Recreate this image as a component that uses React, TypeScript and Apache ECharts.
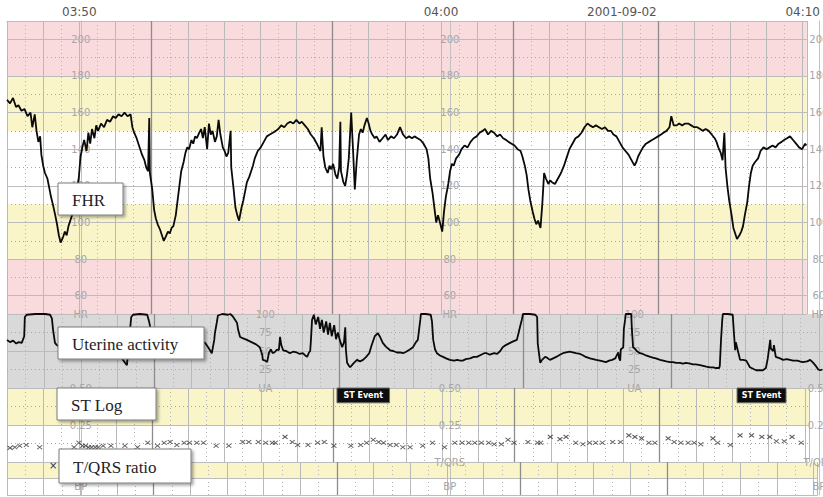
import React, { useEffect, useRef } from "react";
import * as echarts from "echarts";

// ---------- data (time in seconds relative to 03:50:00) ----------
const timeLabels: Record<number, string> = { 0: "03:50", 600: "04:00", 900: "2001-09-02", 1200: "04:10" };
const fhrLabelCols = [0, 600, 1200];
const uaLabelCols = [300, 900];
const darkLines = [120, 420, 720, 960];

const fhrBands: [number, number, string][] = [
  [180, 210, "pink"], [150, 180, "yellow"], [80, 110, "yellow"], [50, 80, "pink"],
];
const fhrSolid = [50, 60, 80, 100, 120, 140, 160, 180, 200, 210];
const fhrDotted = [70, 90, 110, 130, 150, 170, 190];
const uaSolid = [50, 0];
const uaDotted = [25, 75];
const stSolid = [0.25, 0];
const stDotted = [0.125, 0.375];
const bpSolid = [2, 0];

const fhrTrace: [number, number][] = [
  [-120,167],[-115,165],[-110,168],[-105,163],[-101,164],[-96,161],[-91,162],[-86,158],[-81,160],[-78,152],
  [-74,159],[-71,150],[-68,144],[-65,147],[-63,137],[-60,131],[-57,127],[-53,124],[-50,119],[-47,114],
  [-44,110],[-40,104],[-37,99],[-34,93],[-31,89],[-27,92],[-24,95],[-21,93],[-18,98],[-14,102],
  [-11,105],[-8,110],[-5,117],[-1,124],[2,136],[5,141],[8,145],[12,139],[15,149],[18,143],
  [21,151],[25,146],[28,153],[31,150],[36,154],[41,152],[46,156],[51,155],[56,158],[60,157],
  [65,159],[70,158],[75,160],[80,158],[85,159],[88,152],[91,149],[95,146],[98,143],[101,140],
  [104,137],[108,134],[111,130],[114,128],[116,157],[117,127],[121,118],[124,107],[127,102],[130,99],
  [134,96],[137,93],[140,90],[143,92],[147,95],[150,94],[153,97],[156,98],[160,104],[163,112],
  [166,120],[169,128],[173,133],[176,138],[179,141],[182,140],[186,145],[189,143],[192,147],[195,146],
  [199,149],[202,151],[205,146],[208,152],[212,140],[215,154],[218,148],[221,150],[225,144],[228,147],
  [231,156],[234,148],[238,141],[241,139],[244,136],[247,138],[251,150],[252,130],[256,118],[259,108],
  [262,104],[265,101],[269,108],[272,112],[275,117],[278,122],[282,125],[285,128],[288,131],[291,135],
  [296,139],[301,141],[306,144],[311,147],[316,148],[321,149],[326,150],[330,151],[335,153],[340,152],
  [345,154],[350,155],[355,154],[360,156],[365,154],[369,155],[374,153],[379,151],[384,148],[389,146],
  [394,143],[397,141],[400,139],[402,152],[405,136],[408,130],[412,127],[415,131],[418,129],[421,132],
  [425,126],[428,124],[431,130],[433,155],[434,128],[438,122],[441,120],[444,126],[447,135],[451,160],
  [454,140],[457,118],[460,133],[464,148],[467,151],[470,149],[473,153],[477,157],[480,154],[483,150],
  [486,148],[490,146],[493,147],[498,144],[503,146],[508,148],[512,145],[517,147],[522,146],[527,148],
  [532,152],[537,148],[542,146],[547,147],[552,146],[556,147],[561,146],[566,145],[571,143],[576,140],
  [579,135],[582,124],[586,116],[589,108],[592,100],[595,104],[599,99],[602,95],[605,106],[608,114],
  [612,121],[615,128],[618,132],[621,131],[625,135],[630,137],[634,140],[639,142],[644,141],[649,144],
  [654,146],[659,147],[664,149],[669,150],[673,151],[678,148],[683,150],[688,149],[693,147],[698,148],
  [703,146],[708,145],[712,144],[717,143],[722,142],[727,140],[732,139],[735,136],[739,131],[742,126],
  [745,118],[748,112],[752,106],[755,102],[758,99],[761,101],[765,97],[768,110],[771,127],[774,124],
  [778,121],[781,123],[784,122],[789,121],[794,124],[799,127],[804,131],[808,135],[813,140],[818,143],
  [823,146],[828,147],[833,149],[838,152],[843,154],[847,153],[852,152],[857,153],[862,152],[867,151],
  [872,152],[877,150],[882,150],[886,148],[891,147],[896,144],[901,141],[906,139],[911,137],[916,134],
  [921,131],[924,133],[927,136],[930,138],[935,141],[940,143],[945,144],[950,145],[955,146],[960,147],
  [965,148],[969,149],[974,150],[979,152],[982,158],[986,153],[991,153],[995,154],[1000,153],[1005,154],
  [1010,154],[1015,153],[1020,152],[1025,152],[1030,151],[1034,150],[1039,151],[1044,150],[1049,148],[1054,146],
  [1057,144],[1060,141],[1064,138],[1067,134],[1070,149],[1072,130],[1075,120],[1078,112],[1082,104],[1085,97],
  [1088,94],[1091,91],[1095,93],[1098,95],[1101,98],[1104,104],[1108,111],[1111,120],[1114,127],[1117,131],
  [1121,133],[1126,135],[1130,139],[1135,141],[1140,140],[1145,141],[1150,142],[1155,141],[1160,143],[1165,144],
  [1169,145],[1174,146],[1179,147],[1184,145],[1189,143],[1194,141],[1199,140],[1204,143],[1206,142],
];

const uaTrace: [number, number][] = [
  [-120,65],[-115,62],[-110,64],[-105,60],[-101,62],[-96,61],[-92,70],[-91,96],[-88,99],[-74,100],
  [-58,100],[-50,99],[-47,94],[-45,78],[-42,61],[-39,58],[-34,55],[-26,55],[-9,52],[7,50],
  [23,48],[39,45],[56,42],[67,40],[72,34],[75,31],[78,60],[82,96],[85,99],[96,100],
  [108,99],[111,90],[113,82],[116,70],[117,65],[126,62],[137,60],[153,62],[169,58],[186,60],
  [199,62],[202,61],[207,55],[213,47],[217,65],[218,74],[221,88],[223,98],[230,100],[239,99],
  [243,100],[247,97],[251,92],[254,88],[256,78],[259,69],[264,67],[270,65],[275,63],[280,61],
  [285,59],[291,55],[295,45],[296,38],[300,37],[303,35],[306,48],[309,52],[312,47],[316,49],
  [319,52],[322,51],[324,69],[326,58],[329,51],[334,50],[340,47],[345,49],[351,48],[356,46],
  [361,47],[365,44],[368,42],[371,48],[373,50],[374,62],[376,92],[379,99],[382,86],[386,96],
  [389,80],[392,92],[395,75],[399,90],[402,72],[405,88],[408,70],[412,85],[415,66],[418,75],
  [421,65],[425,55],[428,62],[430,82],[431,52],[433,34],[436,30],[438,28],[443,33],[449,38],
  [454,36],[459,38],[464,42],[469,47],[473,58],[478,70],[483,74],[486,70],[491,61],[496,56],
  [503,51],[508,50],[514,48],[519,48],[524,47],[529,49],[535,52],[540,55],[545,62],[548,65],
  [552,92],[553,100],[561,100],[569,99],[571,90],[573,65],[576,52],[579,47],[584,44],[589,42],
  [594,40],[600,38],[607,37],[612,38],[617,37],[621,37],[626,39],[633,40],[639,42],[644,42],
  [651,45],[656,47],[660,47],[665,45],[672,47],[677,46],[682,50],[686,55],[691,58],[698,61],
  [703,63],[709,65],[712,75],[714,82],[717,92],[719,100],[730,100],[739,99],[742,96],[743,60],
  [747,34],[750,38],[755,42],[758,41],[763,38],[768,40],[773,42],[779,45],[784,47],[789,48],
  [795,49],[800,48],[805,47],[812,46],[817,44],[821,42],[828,40],[833,39],[838,38],[844,37],
  [849,36],[854,35],[859,37],[864,38],[869,40],[872,45],[874,48],[875,41],[877,37],[878,52],
  [882,55],[883,80],[885,92],[886,100],[895,100],[896,80],[898,55],[901,53],[904,50],[909,47],
  [914,46],[919,44],[926,42],[930,41],[935,40],[942,38],[947,37],[952,36],[958,35],[963,35],
  [968,34],[974,34],[979,33],[984,34],[991,33],[995,32],[1000,32],[1007,31],[1012,30],[1017,29],
  [1023,28],[1028,28],[1033,27],[1038,27],[1039,30],[1041,65],[1043,92],[1044,100],[1052,100],[1060,99],
  [1062,74],[1064,51],[1065,62],[1067,55],[1072,38],[1077,38],[1082,37],[1088,28],[1093,26],[1098,24],
  [1104,24],[1109,24],[1114,27],[1117,40],[1121,65],[1122,53],[1126,50],[1127,58],[1130,42],[1137,40],
  [1142,38],[1148,39],[1153,38],[1158,37],[1165,37],[1169,36],[1174,35],[1181,36],[1186,38],[1191,34],
  [1195,30],[1199,25],[1202,24],[1206,25],
];

const tqrsPoints: [number, number][] = [
  [-115,0.095],[-107,0.10],[-99,0.11],[-88,0.115],[-66,0.10],[-9,0.10],[-1,0.13],[5,0.11],[10,0.11],[15,0.10],
  [20,0.10],[26,0.10],[31,0.10],[39,0.11],[52,0.11],[75,0.11],[96,0.10],[113,0.13],[129,0.11],[140,0.13],
  [150,0.135],[161,0.115],[173,0.13],[182,0.13],[194,0.13],[205,0.13],[226,0.11],[247,0.11],[270,0.135],[280,0.135],
  [296,0.135],[308,0.13],[319,0.13],[324,0.13],[340,0.17],[352,0.135],[361,0.115],[378,0.115],[394,0.13],[405,0.135],
  [421,0.11],[449,0.11],[465,0.115],[475,0.13],[486,0.15],[495,0.135],[503,0.13],[514,0.115],[524,0.115],[535,0.10],
  [547,0.10],[568,0.11],[584,0.13],[604,0.10],[621,0.13],[633,0.13],[644,0.13],[654,0.13],[665,0.13],[677,0.13],
  [686,0.12],[698,0.12],[709,0.15],[719,0.13],[742,0.135],[758,0.13],[763,0.13],[779,0.17],[795,0.155],[805,0.17],
  [821,0.13],[833,0.12],[844,0.13],[854,0.13],[865,0.13],[882,0.135],[895,0.135],[909,0.18],[919,0.17],[930,0.16],
  [942,0.13],[952,0.13],[974,0.16],[984,0.135],[995,0.13],[1007,0.13],[1017,0.13],[1028,0.12],[1048,0.16],[1056,0.13],
  [1077,0.115],[1093,0.18],[1112,0.18],[1129,0.17],[1142,0.17],[1153,0.14],[1166,0.14],[1179,0.17],[1194,0.13],
];

// [start, end, top, bottom] on the ST log scale
const stEvents: [number, number, number, number][] = [
  [426, 513, 0.5, 0.4],
  [1088, 1169, 0.5, 0.4],
];

// ---------- styling ----------
const COLORS: Record<string, string> = { pink: "#f9dadd", yellow: "#f9f5c9", gray: "#d9d9d9" };
const X_MIN = -120;
const X_MAX = 1206.8;
const GRID_LEFT = 7;
const GRID_W = 816;
const colOffset = (t: number) => -((t - X_MIN) / (X_MAX - X_MIN)) * GRID_W;

const LABEL_FONT = "DejaVu Sans";
const SERIF = "Liberation Serif";

function gridMarkLine(solid: number[], dotted: number[]) {
  const data: any[] = [];
  solid.forEach((v) => data.push({ yAxis: v, lineStyle: { color: "#bcbcbc", width: 1, type: "solid" } }));
  dotted.forEach((v) => data.push({ yAxis: v, lineStyle: { color: "#a9a9a9", width: 1, type: [1, 3] } }));
  darkLines.forEach((v) => data.push({ xAxis: v, lineStyle: { color: "#8c8c8c", width: 1.3, type: "solid" } }));
  return { silent: true, symbol: ["none", "none"], label: { show: false }, emphasis: { disabled: true }, data };
}

function bandArea(bands: [number, number, string][]) {
  return {
    silent: true,
    label: { show: false },
    data: bands.map(([a, b, c]) => [{ yAxis: a, itemStyle: { color: COLORS[c] } }, { yAxis: b }]),
  };
}

function xAxisFor(gridIndex: number, top: boolean) {
  return {
    gridIndex,
    type: "value",
    min: X_MIN,
    max: X_MAX,
    interval: 60,
    position: top ? "top" : "bottom",
    z: 3,
    axisLine: { show: top, lineStyle: { color: "#aaaaaa" } },
    axisTick: { show: false },
    axisLabel: top
      ? {
          show: true,
          margin: 3,
          color: "#555",
          fontSize: 12,
          fontFamily: LABEL_FONT,
          formatter: (v: number) => timeLabels[Math.round(v)] ?? "",
        }
      : { show: false },
    splitLine: { show: true, lineStyle: { color: "#b9b9b9", width: 1 } },
    minorTick: { show: false, splitNumber: 2 },
    minorSplitLine: { show: true, lineStyle: { color: "#b3b3b3", width: 1, type: [1, 3] } },
  };
}

function yAxisFor(gridIndex: number, col: number, min: number, max: number, interval: number, fmt: (v: number) => string) {
  return {
    gridIndex,
    type: "value",
    min,
    max,
    interval,
    position: "left",
    offset: colOffset(col),
    z: 3,
    axisLine: { show: true, lineStyle: { color: "#c2c2c2" } },
    axisTick: { show: false },
    splitLine: { show: false },
    axisLabel: {
      show: true,
      align: "center",
      margin: 0,
      color: "#a6a6a6",
      fontSize: 10,
      fontFamily: LABEL_FONT,
      formatter: fmt,
    },
  };
}

const fhrFmt = (v: number) => (v === 50 ? "HR" : v % 20 === 0 && v <= 200 ? String(v) : "");
const uaFmt = (v: number) => (v === 0 ? "UA" : String(v));
const stFmt = (v: number) => (v === 0 ? "T/QRS" : v.toFixed(2));
const bpFmt = (v: number) => (v === 1 ? "BP" : "");

function labelBox(x: number, y: number, w: number, h: number, text: string) {
  return {
    type: "group",
    x,
    y,
    children: [
      {
        type: "rect",
        z: 100,
        shape: { x: 0, y: 0, width: w, height: h },
        style: {
          fill: "#ffffff",
          stroke: "#7a7a7a",
          lineWidth: 1,
          shadowBlur: 3,
          shadowColor: "rgba(0,0,0,0.35)",
          shadowOffsetX: 2,
          shadowOffsetY: 2,
        },
      },
      {
        type: "text",
        z: 101,
        style: {
          text,
          x: 14,
          y: h / 2 + 1,
          fill: "#1e1e28",
          font: `17px "${SERIF}"`,
          verticalAlign: "middle",
          align: "left",
        },
      },
    ],
  };
}

export default function App() {
  const ref = useRef<HTMLDivElement>(null);

  useEffect(() => {
    if (!ref.current) return;
    const chart = echarts.init(ref.current, undefined, { renderer: "svg" });

    const yAxes: any[] = [];
    // grid 0: FHR (yAxis 0..2)
    fhrLabelCols.forEach((c) => yAxes.push(yAxisFor(0, c, 50, 210, 10, fhrFmt)));
    // grid 1: UA (yAxis 3..4)
    uaLabelCols.forEach((c) => yAxes.push(yAxisFor(1, c, 0, 100, 25, uaFmt)));
    // grid 2: ST log (yAxis 5..7)
    fhrLabelCols.forEach((c) => yAxes.push(yAxisFor(2, c, 0, 0.5, 0.25, stFmt)));
    // grid 3: BP (yAxis 8..10)
    fhrLabelCols.forEach((c) => yAxes.push(yAxisFor(3, c, 0, 4, 1, bpFmt)));

    const option: any = {
      animation: false,
      backgroundColor: "#ffffff",
      grid: [
        { left: GRID_LEFT, right: 0, top: 21, height: 293 },
        { left: GRID_LEFT, right: 0, top: 314, height: 74 },
        { left: GRID_LEFT, right: 0, top: 388, height: 74 },
        { left: GRID_LEFT, right: 0, top: 462, height: 33 },
      ],
      xAxis: [xAxisFor(0, true), xAxisFor(1, false), xAxisFor(2, false), xAxisFor(3, false)],
      yAxis: yAxes,
      series: [
        {
          name: "FHR",
          type: "line",
          xAxisIndex: 0,
          yAxisIndex: 0,
          data: fhrTrace,
          showSymbol: false,
          symbol: "none",
          z: 6,
          lineStyle: { color: "#0a0a0a", width: 1.8 },
          markArea: bandArea(fhrBands),
          markLine: gridMarkLine(fhrSolid, fhrDotted),
        },
        {
          name: "Uterine activity",
          type: "line",
          xAxisIndex: 1,
          yAxisIndex: 3,
          data: uaTrace,
          showSymbol: false,
          symbol: "none",
          z: 6,
          lineStyle: { color: "#0a0a0a", width: 1.8 },
          markArea: bandArea([[0, 100, "gray"]]),
          markLine: gridMarkLine(uaSolid, uaDotted),
        },
        {
          name: "T/QRS ratio",
          type: "scatter",
          xAxisIndex: 2,
          yAxisIndex: 5,
          data: tqrsPoints,
          symbol: "path://M0,0L8,8M8,0L0,8",
          symbolSize: [5, 4],
          z: 6,
          itemStyle: { color: "rgba(0,0,0,0)", borderColor: "#333", borderWidth: 1 },
          markArea: bandArea([[0.25, 0.5, "yellow"]]),
          markLine: gridMarkLine(stSolid, stDotted),
        },
        {
          name: "ST events",
          type: "custom",
          xAxisIndex: 2,
          yAxisIndex: 5,
          z: 7,
          data: stEvents,
          renderItem: (params: any, api: any) => {
            const p0 = api.coord([api.value(0), api.value(2)]);
            const p1 = api.coord([api.value(1), api.value(3)]);
            return {
              type: "group",
              children: [
                {
                  type: "rect",
                  shape: { x: p0[0], y: p0[1], width: p1[0] - p0[0], height: p1[1] - p0[1] },
                  style: { fill: "#0d0d0d", stroke: "#6a6a6a", lineWidth: 1 },
                },
                {
                  type: "text",
                  style: {
                    text: "ST Event",
                    x: (p0[0] + p1[0]) / 2,
                    y: (p0[1] + p1[1]) / 2,
                    fill: "#ffffff",
                    font: `bold 8px "${LABEL_FONT}"`,
                    align: "center",
                    verticalAlign: "middle",
                  },
                },
              ],
            };
          },
        },
        {
          name: "BP",
          type: "line",
          xAxisIndex: 3,
          yAxisIndex: 8,
          data: [],
          showSymbol: false,
          markArea: bandArea([[2, 4, "yellow"]]),
          markLine: gridMarkLine(bpSolid, []),
        },
      ],
      graphic: [
        labelBox(58, 183, 65, 32, "FHR"),
        labelBox(58, 327, 146, 32, "Uterine activity"),
        labelBox(57, 388, 99, 32, "ST Log"),
        labelBox(59, 449, 132, 34, "T/QRS ratio"),
        {
          type: "text",
          x: 49,
          y: 460,
          z: 100,
          style: { text: "×", fill: "#333", font: `10px "${LABEL_FONT}"` },
        },
      ],
    };

    chart.setOption(option);
    return () => chart.dispose();
  }, []);

  return <div ref={ref} style={{ position: "fixed", left: 0, top: 0, width: 823, height: 497 }} />;
}
